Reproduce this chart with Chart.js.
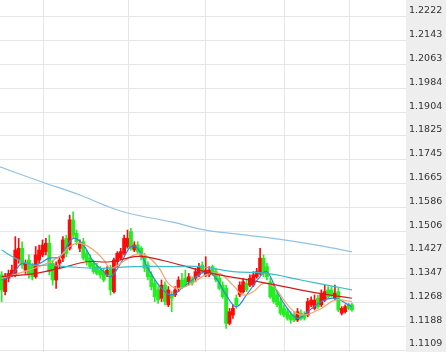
<!DOCTYPE html>
<html>
<head>
<meta charset="utf-8">
<script src="https://cdn.jsdelivr.net/npm/chart.js@4.4.1/dist/chart.umd.min.js"></script>
<style>
  html, body { margin: 0; padding: 0; background: #fff; }
  canvas { display: block; }
</style>
</head>
<body>
<canvas id="chart" width="446" height="352"></canvas>
<script>
// K线数据 (开, 高, 低, 收)
const opens = [1.1360,1.1304,1.1349,1.1360,1.1360,1.1410,1.1449,1.1376,1.1410,1.1388,
  1.1354,1.1410,1.1427,1.1438,1.1466,1.1399,1.1343,1.1399,1.1416,1.1482,
  1.1449,1.1544,1.1499,1.1449,1.1471,1.1432,1.1416,1.1399,1.1388,1.1376,
  1.1371,1.1360,1.1382,1.1304,1.1404,1.1416,1.1432,1.1455,1.1505,1.1443,
  1.1460,1.1449,1.1421,1.1393,1.1360,1.1332,1.1310,1.1282,1.1326,1.1260,
  1.1293,1.1293,1.1315,1.1343,1.1349,1.1337,1.1343,1.1349,1.1360,1.1393,
  1.1360,1.1360,1.1388,1.1371,1.1349,1.1326,1.1315,1.1198,1.1226,1.1282,
  1.1293,1.1304,1.1332,1.1326,1.1326,1.1354,1.1365,1.1416,1.1388,1.1337,
  1.1321,1.1293,1.1271,1.1248,1.1237,1.1226,1.1226,1.1209,1.1232,1.1226,
  1.1226,1.1260,1.1248,1.1282,1.1260,1.1276,1.1310,1.1310,1.1282,1.1304,
  1.1232,1.1237,1.1260,1.1260];
const highs = [1.1371,1.1365,1.1376,1.1393,1.1488,1.1482,1.1471,1.1410,1.1427,1.1399,
  1.1455,1.1460,1.1477,1.1482,1.1493,1.1410,1.1404,1.1421,1.1488,1.1493,
  1.1560,1.1571,1.1510,1.1477,1.1482,1.1443,1.1427,1.1410,1.1399,1.1388,
  1.1382,1.1388,1.1393,1.1416,1.1438,1.1449,1.1493,1.1510,1.1516,1.1471,
  1.1471,1.1455,1.1432,1.1404,1.1371,1.1343,1.1321,1.1343,1.1337,1.1321,
  1.1304,1.1321,1.1354,1.1365,1.1376,1.1365,1.1354,1.1382,1.1399,1.1404,
  1.1421,1.1388,1.1393,1.1382,1.1360,1.1337,1.1326,1.1248,1.1260,1.1293,
  1.1337,1.1349,1.1343,1.1360,1.1371,1.1382,1.1449,1.1427,1.1399,1.1349,
  1.1332,1.1304,1.1282,1.1260,1.1248,1.1237,1.1237,1.1248,1.1243,1.1237,
  1.1282,1.1287,1.1293,1.1293,1.1310,1.1326,1.1321,1.1321,1.1326,1.1315,
  1.1254,1.1260,1.1265,1.1265];
const lows = [1.1271,1.1293,1.1337,1.1354,1.1354,1.1399,1.1382,1.1365,1.1349,1.1343,
  1.1349,1.1399,1.1421,1.1427,1.1360,1.1326,1.1315,1.1382,1.1404,1.1421,
  1.1443,1.1482,1.1460,1.1438,1.1410,1.1393,1.1382,1.1365,1.1360,1.1349,
  1.1337,1.1354,1.1293,1.1299,1.1388,1.1410,1.1427,1.1449,1.1443,1.1438,
  1.1432,1.1410,1.1371,1.1343,1.1310,1.1271,1.1265,1.1271,1.1260,1.1254,
  1.1237,1.1287,1.1304,1.1315,1.1321,1.1326,1.1326,1.1337,1.1354,1.1365,
  1.1354,1.1354,1.1360,1.1337,1.1310,1.1282,1.1181,1.1193,1.1215,1.1248,
  1.1287,1.1299,1.1304,1.1321,1.1321,1.1349,1.1360,1.1354,1.1343,1.1282,
  1.1265,1.1254,1.1226,1.1220,1.1209,1.1198,1.1204,1.1204,1.1209,1.1209,
  1.1220,1.1254,1.1243,1.1248,1.1254,1.1271,1.1282,1.1287,1.1276,1.1237,
  1.1226,1.1232,1.1243,1.1239];
const closes = [1.1310,1.1354,1.1365,1.1376,1.1443,1.1449,1.1393,1.1399,1.1360,1.1354,
  1.1427,1.1443,1.1460,1.1466,1.1371,1.1343,1.1393,1.1410,1.1477,1.1432,
  1.1544,1.1493,1.1471,1.1466,1.1416,1.1404,1.1388,1.1371,1.1365,1.1360,
  1.1343,1.1376,1.1310,1.1410,1.1432,1.1438,1.1482,1.1482,1.1449,1.1460,
  1.1438,1.1421,1.1382,1.1354,1.1321,1.1287,1.1276,1.1326,1.1271,1.1310,
  1.1282,1.1310,1.1343,1.1321,1.1326,1.1354,1.1332,1.1371,1.1388,1.1371,
  1.1376,1.1376,1.1365,1.1343,1.1315,1.1287,1.1198,1.1237,1.1248,1.1260,
  1.1326,1.1337,1.1310,1.1349,1.1360,1.1371,1.1416,1.1365,1.1354,1.1287,
  1.1271,1.1260,1.1232,1.1226,1.1215,1.1209,1.1209,1.1237,1.1215,1.1215,
  1.1271,1.1276,1.1276,1.1254,1.1299,1.1304,1.1287,1.1293,1.1299,1.1243,
  1.1248,1.1254,1.1248,1.1243];

// 均线 (读取的位置: K线序号 -> 数值)
const ma5Idx = [0,3,6,10,14,17,21,24,27,30,32,35,38,40,43,47,50,53,56,60,63,66,69,72,76,78,81,84,87,90,94,98,102,103];
const ma5Val = [1.1343,1.1360,1.1399,1.1393,1.1416,1.1421,1.1482,1.1460,1.1404,1.1371,1.1354,1.1399,1.1455,1.1449,1.1382,1.1315,1.1293,1.1315,1.1343,1.1371,1.1349,1.1293,1.1254,1.1293,1.1354,1.1371,1.1304,1.1248,1.1215,1.1237,1.1271,1.1282,1.1260,1.1254];
const ma10Idx = [0,5,11,17,20,23,27,30,32,35,39,42,46,49,52,56,60,64,68,71,74,77,80,83,86,89,94,98,103];
const ma10Val = [1.1349,1.1365,1.1388,1.1421,1.1455,1.1466,1.1443,1.1410,1.1382,1.1399,1.1427,1.1427,1.1388,1.1332,1.1315,1.1332,1.1360,1.1365,1.1326,1.1293,1.1304,1.1332,1.1321,1.1276,1.1237,1.1226,1.1248,1.1276,1.1271];
const ma20Idx = [0,10,19,25,32,39,42,49,58,64,73,78,83,93,103];
const ma20Val = [1.1354,1.1365,1.1388,1.1404,1.1404,1.1421,1.1421,1.1404,1.1376,1.1360,1.1343,1.1332,1.1321,1.1299,1.1282];
const ma60Idx = [0,4,9,14,19,29,39,49,58,68,78,88,98,103];
const ma60Val = [1.1443,1.1416,1.1393,1.1393,1.1388,1.1382,1.1388,1.1388,1.1388,1.1371,1.1365,1.1343,1.1321,1.1310];
const ma120Idx = [-0.5,11,23,30,37,50,60,72,83,94,103];
const ma120Val = [1.1721,1.1674,1.1627,1.1594,1.1567,1.1537,1.1510,1.1493,1.1477,1.1457,1.1437];

// 坐标轴刻度
const yTicks = [1.2222,1.2143,1.2063,1.1984,1.1904,1.1825,1.1745,1.1665,1.1586,1.1506,1.1427,1.1347,1.1268,1.1188,1.1109];
const xGridIdx = [12.4,37.4,59.8,83.3,102.4];

const UP = '#ff0a0a';
const DOWN = '#22ee22';
const candleColor = ctx => closes[ctx.dataIndex] >= opens[ctx.dataIndex] ? UP : DOWN;

function pts(idx, vals) {
  return idx.map((x, i) => ({ x: x, y: vals[i] }));
}
function maLine(idx, vals, color) {
  return {
    type: 'line', data: pts(idx, vals), borderColor: color, borderWidth: 1.2,
    pointRadius: 0, tension: 0.4, fill: false, order: 1
  };
}

// 右侧刻度区域的灰色背景
const axisBg = {
  id: 'axisBg',
  beforeDraw(chart) {
    const { ctx, chartArea } = chart;
    ctx.save();
    ctx.fillStyle = '#eeeeee';
    ctx.fillRect(chartArea.right, 0, chart.width - chartArea.right, chart.height);
    ctx.restore();
  }
};

new Chart(document.getElementById('chart'), {
  type: 'bar',
  data: {
    datasets: [
      {
        label: 'wick', data: lows.map((l, i) => ({ x: i, y: [l, highs[i]] })),
        backgroundColor: candleColor, barThickness: 1, grouped: false, order: 10
      },
      {
        label: 'body', data: opens.map((o, i) => ({ x: i, y: [o, closes[i]] })),
        backgroundColor: candleColor, barThickness: 3.2, grouped: false, order: 9
      },
      maLine(ma120Idx, ma120Val, '#8fc3e4'),
      maLine(ma60Idx, ma60Val, '#3bbccb'),
      maLine(ma20Idx, ma20Val, '#d01c1c'),
      maLine(ma10Idx, ma10Val, '#f2a46e'),
      maLine(ma5Idx, ma5Val, '#2e86de')
    ]
  },
  options: {
    responsive: false,
    animation: false,
    layout: { padding: 0 },
    plugins: { legend: { display: false }, tooltip: { enabled: false } },
    scales: {
      x: {
        type: 'linear', min: -0.5, max: 118.9, offset: false,
        afterBuildTicks: s => { s.ticks = xGridIdx.map(v => ({ value: v })); },
        afterFit: s => { s.height = 0; s.paddingLeft = 0; s.paddingRight = 0; },
        grid: { color: '#e6e6e6', drawTicks: false, offset: false },
        border: { display: false },
        ticks: { display: false }
      },
      y: {
        position: 'right', min: 1.11024, max: 1.22788,
        afterBuildTicks: s => { s.ticks = yTicks.map(v => ({ value: v })); },
        afterFit: s => { s.width = 40; s.paddingTop = 0; s.paddingBottom = 0; },
        grid: { color: '#e6e6e6', drawTicks: false },
        border: { display: false },
        ticks: {
          autoSkip: false, labelOffset: -6, padding: 3, color: '#333',
          font: { family: 'DejaVu Sans', size: 9.5 },
          callback: v => Number(v).toFixed(4)
        }
      }
    }
  },
  plugins: [axisBg]
});
</script>
</body>
</html>
